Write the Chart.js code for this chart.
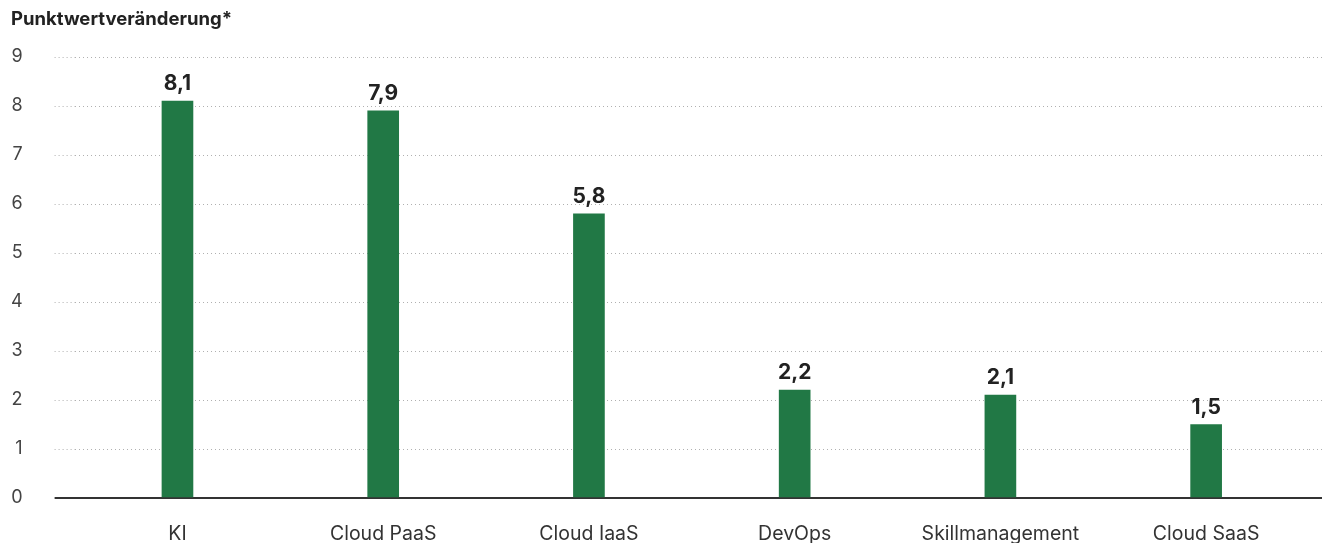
<!DOCTYPE html>
<html><head><meta charset="utf-8">
<script src="https://cdn.jsdelivr.net/npm/chart.js@4/dist/chart.umd.min.js"></script>
<style>html,body{margin:0;padding:0;background:#fff}#wrap{width:1325px;height:543px;position:relative}</style>
</head><body><div id="wrap"><canvas id="c"></canvas></div>
<script>
const categories = ['KI', 'Cloud PaaS', 'Cloud IaaS', 'DevOps', 'Skillmanagement', 'Cloud SaaS'];
const values = [8.1, 7.9, 5.8, 2.2, 2.1, 1.5];
const yTicks = [0, 1, 2, 3, 4, 5, 6, 7, 8, 9];
const titleText = 'Punktwertveränderung*';

const FONT = 'Inter, "Liberation Sans", sans-serif';
const isZero = c => c && c.tick && c.tick.value === 0;
const gridCfg = (len, onArea) => ({
  drawOnChartArea: onArea,
  drawTicks: true,
  tickLength: len,
  color: c => isZero(c) ? '#333' : '#b0b0b0',
  tickColor: c => isZero(c) ? '#333' : '#b0b0b0',
  lineWidth: c => isZero(c) ? 2 : 1,
  tickWidth: c => isZero(c) ? 2 : 1,
  tickBorderDash: c => isZero(c) ? [] : [1, 3]
});
const setTicks = s => { s.ticks = yTicks.map(v => ({ value: v })); };

const labelPlugin = {
  id: 'valueLabels',
  afterDatasetsDraw(chart) {
    const ctx = chart.ctx;
    const meta = chart.getDatasetMeta(0);
    ctx.save();
    ctx.font = 'bold 21px ' + FONT;
    ctx.fillStyle = '#222';
    ctx.textAlign = 'center';
    ctx.textBaseline = 'alphabetic';
    meta.data.forEach((bar, i) => {
      ctx.fillText(String(values[i]).replace('.', ','), bar.x, bar.y - 11);
    });
    ctx.restore();
  }
};

new Chart(document.getElementById('c'), {
  type: 'bar',
  data: {
    labels: categories,
    datasets: [{
      data: values,
      backgroundColor: '#217845',
      barThickness: 31
    }]
  },
  options: {
    responsive: true,
    maintainAspectRatio: false,
    animation: false,
    layout: { padding: { left: 11, right: 3, top: 0, bottom: 0 } },
    plugins: {
      legend: { display: false },
      tooltip: { enabled: false },
      title: {
        display: true,
        text: titleText,
        align: 'start',
        color: '#222',
        font: { family: FONT, size: 18.5, weight: 'bold', lineHeight: 1.2 },
        padding: { top: 8.4, bottom: 26.4 }
      }
    },
    scales: {
      x: {
        grid: { display: false, drawTicks: false },
        border: { display: false },
        afterFit: s => { s.height = 45; },
        ticks: {
          color: '#333',
          font: { family: FONT, size: 19.5, lineHeight: 1 },
          padding: 26,
          maxRotation: 0,
          autoSkip: false
        }
      },
      y: {
        position: 'left',
        min: 0, max: 9,
        afterBuildTicks: setTicks,
        afterFit: s => { s.width = 63.6; },
        grid: gridCfg(20, true),
        border: { display: false, dash: c => isZero(c) ? [] : [1, 3] },
        ticks: {
          color: '#444',
          font: { family: FONT, size: 18 },
          padding: 32
        }
      },
      y2: {
        position: 'right',
        min: 0, max: 9,
        afterBuildTicks: setTicks,
        afterFit: s => { s.width = 13; },
        grid: gridCfg(13, false),
        border: { display: false },
        ticks: { display: false }
      }
    }
  },
  plugins: [labelPlugin]
});
</script>
</body></html>
